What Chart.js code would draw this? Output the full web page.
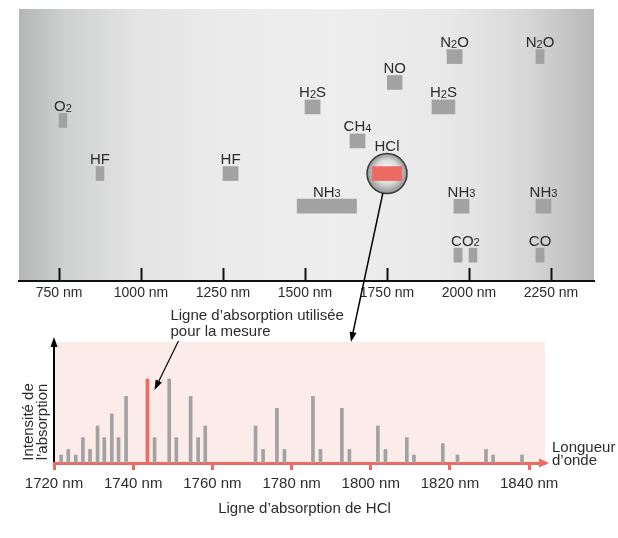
<!DOCTYPE html>
<html><head><meta charset="utf-8">
<script src="https://cdn.jsdelivr.net/npm/chart.js@4/dist/chart.umd.min.js"></script>
<style>
html,body{margin:0;padding:0;background:#fff;}
#wrap{position:relative;width:618px;height:538px;}
#wrap canvas{position:absolute;left:0;top:0;}
</style></head><body>
<div id="wrap"><canvas id="topc" width="618" height="538"></canvas><canvas id="botc" width="618" height="538"></canvas></div>
<script>
// ---------- Top panel: absorption bands of gases (nm) ----------
const gasNames  = ['O2','HF','HF','NH3','H2S','CH4','NO','HCl','N2O','H2S','NH3','CO2','','N2O','NH3','CO'];
const bandStart = [750, 863, 1250, 1476, 1500, 1637, 1751, 1705, 1933, 1887, 1954, 1954, 2000, 2204, 2204, 2204];
const bandEnd   = [774, 887, 1296, 1657, 1546, 1683, 1796, 1795, 1979, 1957, 2000, 1979, 2024, 2229, 2250, 2229];
const bandLevel = [11.8, 7.9, 7.9, 5.5, 12.8, 10.3, 14.6, 7.9, 16.5, 12.8, 5.5, 1.9, 1.9, 16.5, 5.5, 1.9];
const topTicks  = [750, 1000, 1250, 1500, 1750, 2000, 2250];
const highlightedGas = 'HCl';

// ---------- Bottom panel: HCl absorption lines ----------
const hclLambda    = [1721.8, 1723.6, 1725.5, 1727.3, 1729.1, 1731.0, 1732.7, 1734.6, 1736.3, 1738.2,
                      1743.6, 1745.4, 1749.1, 1750.9, 1754.5, 1756.4, 1758.2, 1770.9, 1772.8, 1776.3,
                      1778.2, 1785.4, 1787.3, 1792.7, 1794.6, 1801.8, 1803.7, 1809.1, 1810.9, 1818.2,
                      1821.9, 1829.1, 1830.9, 1838.2];
const hclIntensity = [6.6, 11.2, 6.6, 21, 11.2, 30.6, 21, 40.5, 21, 55,
                      69.4, 21, 69.4, 21, 55, 21, 30.6, 30.6, 11.2, 45.2,
                      11.2, 55, 11.2, 45.2, 11.2, 30.6, 11.2, 21, 6.6, 16,
                      6.6, 11.2, 6.6, 6.6];
const bottomTicks  = [1720, 1740, 1760, 1780, 1800, 1820, 1840];
const measuredLine = 1743.6;
const connectorTarget = 1795;

const annotationLines = ['Ligne d’absorption utilisée', 'pour la mesure'];
const yTitleLines = ['Intensité de', 'l’absorption'];
const xEndLines = ['Longueur', 'd’onde'];
const bottomTitle = 'Ligne d’absorption de HCl';

const FONT = "'Liberation Sans', Arial, Helvetica, sans-serif";
const TXT = '#2b2b2b';
const GRAY = '#a2a2a2';
const RED = '#ee6a64';
const PINK = '#fcece9';
Chart.defaults.font.family = FONT;

function drawChem(ctx, text, cx, baseline) {
  const runs = text.match(/\d+|\D+/g) || [];
  const big = '15px ' + FONT, small = '11px ' + FONT;
  let total = 0;
  const w = runs.map(r => { ctx.font = /\d/.test(r) ? small : big; const m = ctx.measureText(r).width; total += m; return m; });
  let x = cx - total / 2;
  ctx.fillStyle = TXT; ctx.textAlign = 'left'; ctx.textBaseline = 'alphabetic';
  runs.forEach((r, i) => { ctx.font = /\d/.test(r) ? small : big; ctx.fillText(r, x, baseline + (/\d/.test(r) ? 0.5 : 0)); x += w[i]; });
}
function arrowHead(ctx, x1, y1, x2, y2, len, half) {
  const a = Math.atan2(y2 - y1, x2 - x1);
  ctx.beginPath();
  ctx.moveTo(x2, y2);
  ctx.lineTo(x2 - len * Math.cos(a) + half * Math.sin(a), y2 - len * Math.sin(a) - half * Math.cos(a));
  ctx.lineTo(x2 - len * Math.cos(a) - half * Math.sin(a), y2 - len * Math.sin(a) + half * Math.cos(a));
  ctx.closePath(); ctx.fill();
}
function hclCircle(chart) {
  const i = gasNames.indexOf(highlightedGas);
  const xs = chart.scales.x, ys = chart.scales.y;
  return { x: xs.getPixelForValue((bandStart[i] + bandEnd[i]) / 2), y: ys.getPixelForValue(bandLevel[i]), r: 20 };
}

const topDecor = {
  id: 'topDecor',
  beforeDraw(chart) {
    const {ctx, chartArea: a} = chart;
    const g = ctx.createLinearGradient(a.left, 0, a.right, 0);
    g.addColorStop(0, '#b4b5b5'); g.addColorStop(0.08, '#cfd0d0'); g.addColorStop(0.2, '#e3e3e3');
    g.addColorStop(0.35, '#ebebeb'); g.addColorStop(0.55, '#eeeeee'); g.addColorStop(0.75, '#e8e8e8');
    g.addColorStop(0.88, '#d8d8d8'); g.addColorStop(1, '#b8b8b8');
    ctx.save(); ctx.fillStyle = g; ctx.fillRect(a.left, a.top, a.right - a.left, a.bottom - a.top); ctx.restore();
  },
  beforeDatasetsDraw(chart) {
    const {ctx} = chart; const c = hclCircle(chart);
    ctx.save();
    const g = ctx.createRadialGradient(c.x, c.y - 4, 2, c.x, c.y, c.r);
    g.addColorStop(0, '#f4f4f4'); g.addColorStop(0.55, '#dcdcdc'); g.addColorStop(1, '#8f8f8f');
    ctx.fillStyle = g; ctx.beginPath(); ctx.arc(c.x, c.y, c.r, 0, Math.PI * 2); ctx.fill();
    ctx.strokeStyle = '#3a3a3a'; ctx.lineWidth = 1.5; ctx.stroke();
    ctx.restore();
  },
  afterDatasetsDraw(chart) {
    const {ctx} = chart; const xs = chart.scales.x, ys = chart.scales.y;
    ctx.save();
    gasNames.forEach((name, i) => {
      if (!name) return;
      let s = bandStart[i], e = bandEnd[i];
      for (let j = i + 1; j < gasNames.length && gasNames[j] === ''; j++) { s = Math.min(s, bandStart[j]); e = Math.max(e, bandEnd[j]); }
      const cx = xs.getPixelForValue((s + e) / 2);
      let base = ys.getPixelForValue(bandLevel[i]) - 7 - 2.5;
      if (name === highlightedGas) { const c = hclCircle(chart); base = c.y - c.r - 3; }
      drawChem(ctx, name, cx, base);
    });
    ctx.restore();
  }
};

const topChart = new Chart(document.getElementById('topc'), {
  type: 'bar',
  data: { datasets: [{
    data: bandStart.map((s, i) => ({ x: [s, bandEnd[i]], y: bandLevel[i] })),
    backgroundColor: gasNames.map(n => n === highlightedGas ? RED : GRAY),
    barThickness: 14, borderWidth: 0
  }] },
  options: {
    indexAxis: 'y', responsive: false, animation: false, events: [],
    layout: { padding: { left: 19, right: 24, top: 9, bottom: 227 } },
    plugins: { legend: { display: false }, tooltip: { enabled: false } },
    scales: {
      x: {
        type: 'linear', min: 628, max: 2381, offset: false,
        afterBuildTicks: s => { s.ticks = topTicks.map(v => ({ value: v })); },
        afterFit: s => { s.height = 30; },
        border: { display: true, color: '#111', width: 2 },
        grid: { drawOnChartArea: false, drawTicks: true, tickLength: -13, tickWidth: 2, tickColor: '#111', offset: false },
        ticks: { padding: 17, color: TXT, font: { size: 14 }, autoSkip: false, maxRotation: 0, callback: v => v + ' nm' }
      },
      y: { type: 'linear', min: 0, max: 20, display: false, offset: false }
    }
  },
  plugins: [topDecor]
});

const botDecor = {
  id: 'botDecor',
  beforeDraw(chart) {
    const {ctx, chartArea: a} = chart;
    ctx.save(); ctx.fillStyle = PINK; ctx.fillRect(a.left, a.top, a.right - a.left, a.bottom - a.top); ctx.restore();
  },
  afterDraw(chart) {
    const {ctx, chartArea: a} = chart; const xs = chart.scales.x, ys = chart.scales.y;
    ctx.save();
    // y axis arrow
    ctx.strokeStyle = '#000'; ctx.fillStyle = '#000'; ctx.lineWidth = 2;
    ctx.beginPath(); ctx.moveTo(a.left, a.bottom - 1); ctx.lineTo(a.left, a.top + 2); ctx.stroke();
    arrowHead(ctx, a.left, a.bottom, a.left, a.top - 5, 10, 3.5);
    // x axis arrow extension
    ctx.strokeStyle = RED; ctx.fillStyle = RED; ctx.lineWidth = 3;
    ctx.beginPath(); ctx.moveTo(a.right - 1, a.bottom); ctx.lineTo(a.right + 1, a.bottom); ctx.stroke();
    arrowHead(ctx, a.right - 10, a.bottom, a.right + 4, a.bottom, 10, 4.5);
    // annotation
    const mi = hclLambda.indexOf(measuredLine);
    const px = xs.getPixelForValue(measuredLine), py = ys.getPixelForValue(hclIntensity[mi]);
    ctx.strokeStyle = '#000'; ctx.fillStyle = '#000'; ctx.lineWidth = 1.2;
    const sx = px + 31, sy = a.top - 1, tx = px + 7, ty = py + 11;
    ctx.beginPath(); ctx.moveTo(sx, sy); ctx.lineTo(tx + (sx - tx) * 0.15, ty + (sy - ty) * 0.15); ctx.stroke();
    arrowHead(ctx, sx, sy, tx, ty, 10, 3.5);
    ctx.font = '15px ' + FONT; ctx.fillStyle = TXT; ctx.textAlign = 'left'; ctx.textBaseline = 'alphabetic';
    ctx.fillText(annotationLines[0], px + 23, a.top - 22.5);
    ctx.fillText(annotationLines[1], px + 23, a.top - 6.5);
    // y title
    ctx.save(); ctx.translate(a.left - 25, a.bottom - 41); ctx.rotate(-Math.PI / 2);
    ctx.textAlign = 'center'; ctx.textBaseline = 'middle';
    ctx.fillText(yTitleLines[0], 0, 0); ctx.fillText(yTitleLines[1], 0, 14);
    ctx.restore();
    // axis end label
    ctx.textAlign = 'left'; ctx.textBaseline = 'alphabetic';
    ctx.fillText(xEndLines[0], a.right + 7, a.bottom - 11.5);
    ctx.fillText(xEndLines[1], a.right + 7, a.bottom + 2);
    // bottom title
    ctx.textAlign = 'center';
    ctx.fillText(bottomTitle, (a.left + a.right) / 2 + 5, a.bottom + 50);
    // connector from the HCl circle
    const c = hclCircle(topChart);
    const ex = xs.getPixelForValue(connectorTarget), ey = a.top;
    const L = Math.hypot(ex - c.x, ey - c.y);
    const ux = (ex - c.x) / L, uy = (ey - c.y) / L;
    ctx.strokeStyle = '#000'; ctx.fillStyle = '#000'; ctx.lineWidth = 1.5;
    ctx.beginPath(); ctx.moveTo(c.x + ux * c.r, c.y + uy * c.r); ctx.lineTo(ex - ux * 6, ey - uy * 6); ctx.stroke();
    arrowHead(ctx, c.x, c.y, ex, ey, 10, 3.5);
    ctx.restore();
  }
};

const bottomChart = new Chart(document.getElementById('botc'), {
  type: 'bar',
  data: { datasets: [{
    data: hclLambda.map((l, i) => ({ x: l, y: hclIntensity[i] })),
    backgroundColor: hclLambda.map(l => l === measuredLine ? RED : GRAY),
    barThickness: 3, borderWidth: 0
  }] },
  options: {
    responsive: false, animation: false, events: [],
    layout: { padding: { left: 54, right: 73, top: 342, bottom: 45 } },
    plugins: { legend: { display: false }, tooltip: { enabled: false } },
    scales: {
      x: {
        type: 'linear', min: 1720, max: 1844, offset: false,
        afterBuildTicks: s => { s.ticks = bottomTicks.map(v => ({ value: v })); },
        afterFit: s => { s.height = 30; },
        border: { display: true, color: RED, width: 3 },
        grid: { drawOnChartArea: false, drawTicks: true, tickLength: 7, tickWidth: 3, tickColor: RED, offset: false },
        ticks: { padding: 5, color: TXT, font: { size: 15 }, autoSkip: false, maxRotation: 0, callback: v => v + ' nm' }
      },
      y: { type: 'linear', min: 0, max: 100, display: false }
    }
  },
  plugins: [botDecor]
});
</script>
</body></html>
